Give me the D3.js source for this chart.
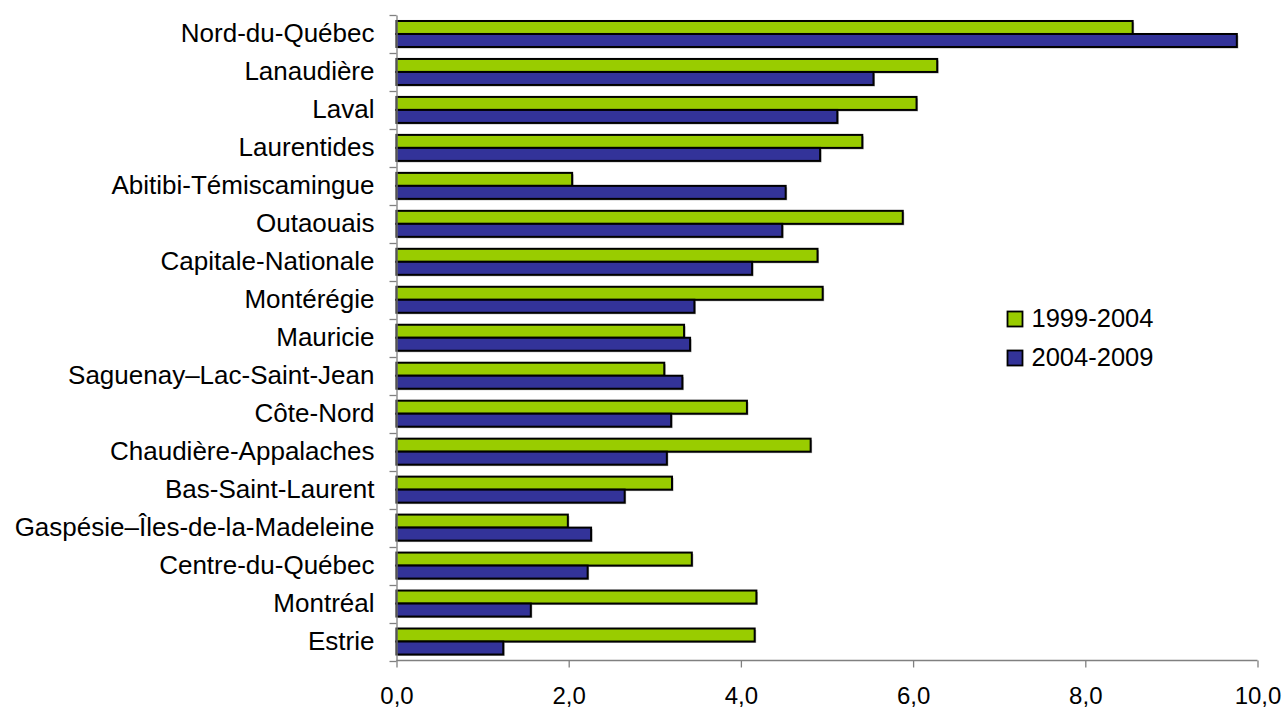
<!DOCTYPE html>
<html>
<head>
<meta charset="utf-8">
<script src="https://cdn.jsdelivr.net/npm/d3@7"></script>
<style>
  body { margin: 0; background: #fff; }
  svg { display: block; font-family: "Liberation Sans", Arial, sans-serif; }
</style>
</head>
<body>
<svg id="chart" width="1288" height="710"></svg>
<script>
const categories = [
  "Nord-du-Québec", "Lanaudière", "Laval", "Laurentides", "Abitibi-Témiscamingue",
  "Outaouais", "Capitale-Nationale", "Montérégie", "Mauricie", "Saguenay–Lac-Saint-Jean",
  "Côte-Nord", "Chaudière-Appalaches", "Bas-Saint-Laurent", "Gaspésie–Îles-de-la-Madeleine",
  "Centre-du-Québec", "Montréal", "Estrie"
];
const series1999 = [8.55, 6.28, 6.04, 5.41, 2.04, 5.88, 4.89, 4.95, 3.34, 3.11, 4.07, 4.81, 3.20, 1.99, 3.43, 4.18, 4.16];
const series2004 = [9.76, 5.54, 5.12, 4.92, 4.52, 4.48, 4.13, 3.46, 3.41, 3.32, 3.19, 3.14, 2.65, 2.26, 2.22, 1.56, 1.24];
const seriesNames = ["1999-2004", "2004-2009"];
const seriesColors = ["#99CC00", "#333399"];
const xTicks = [0, 2, 4, 6, 8, 10];

(function () {
const svg = d3.select("#chart");
const mLeft = 396.5, mRight = 1257.5, mTop = 15, mBottom = 660.5;
const FONT = "Liberation Sans, Arial, sans-serif";

const x = d3.scaleLinear().domain([0, 10]).range([mLeft, mRight]);
const y = d3.scaleBand().domain(categories).range([mTop, mBottom]).paddingInner(0).paddingOuter(0);
const inner = d3.scaleBand().domain(seriesNames).range([0, y.bandwidth()]).paddingInner(0).paddingOuter(0.46);

const data = categories.map((c, i) => ({ cat: c, vals: [series1999[i], series2004[i]] }));

const g = svg.append("g");
const groups = g.selectAll("g.cat").data(data).enter().append("g")
  .attr("transform", d => `translate(0,${y(d.cat)})`);

// subtle shadow
groups.selectAll("rect.shadow").data(d => d.vals.map((v, k) => ({ v, k })))
  .enter().append("rect")
  .attr("x", x(0) + 1.5)
  .attr("y", d => inner(seriesNames[d.k]) + 1.5)
  .attr("width", d => x(d.v) - x(0))
  .attr("height", inner.bandwidth())
  .attr("fill", "#b0b0b0");

groups.selectAll("rect.bar").data(d => d.vals.map((v, k) => ({ v, k })))
  .enter().append("rect")
  .attr("class", "bar")
  .attr("x", x(0))
  .attr("y", d => inner(seriesNames[d.k]))
  .attr("width", d => x(d.v) - x(0))
  .attr("height", inner.bandwidth())
  .attr("fill", d => seriesColors[d.k])
  .attr("stroke", "#000")
  .attr("stroke-width", 2);

// Y axis
const yAxis = d3.axisLeft(y).tickSize(0).tickPadding(22);
const yg = svg.append("g").attr("transform", `translate(${mLeft},0)`).call(yAxis);
yg.select(".domain").attr("stroke", "#808080").attr("stroke-width", 1.3);
yg.selectAll("text").attr("font-size", 26).attr("fill", "#000").attr("font-family", FONT);
// category separator ticks
const bounds = categories.map(c => y(c)).concat([mBottom]);
svg.append("g").selectAll("line").data(bounds).enter().append("line")
  .attr("x1", mLeft - 7).attr("x2", mLeft)
  .attr("y1", d => Math.round(d) + 0.5).attr("y2", d => Math.round(d) + 0.5)
  .attr("stroke", "#808080").attr("stroke-width", 1.3);

// X axis
const xAxis = d3.axisBottom(x).tickValues(xTicks).tickSize(7).tickPadding(19)
  .tickFormat(d => d3.format(".1f")(d).replace(".", ","));
const xg = svg.append("g").attr("transform", `translate(0,${mBottom})`).call(xAxis);
xg.select(".domain").attr("stroke", "#808080").attr("stroke-width", 1.3).attr("d", `M${mLeft},0H${mRight}`);
xg.selectAll(".tick line").attr("stroke", "#808080").attr("stroke-width", 1.3);
xg.selectAll("text").attr("font-size", 24).attr("fill", "#000").attr("font-family", FONT);

// Legend
const legend = svg.append("g").attr("transform", "translate(1007.5,311.5)");
seriesNames.forEach((n, k) => {
  const lg = legend.append("g").attr("transform", `translate(0,${k * 39})`);
  lg.append("rect").attr("x", 0).attr("y", 0).attr("width", 15).attr("height", 15)
    .attr("fill", seriesColors[k]).attr("stroke", "#000").attr("stroke-width", 1.8);
  lg.append("text").attr("x", 24).attr("y", 7).attr("dy", "0.35em")
    .attr("font-size", 25.5).attr("font-family", FONT).attr("fill", "#000").text(n);
});
})();
</script>
</body>
</html>
